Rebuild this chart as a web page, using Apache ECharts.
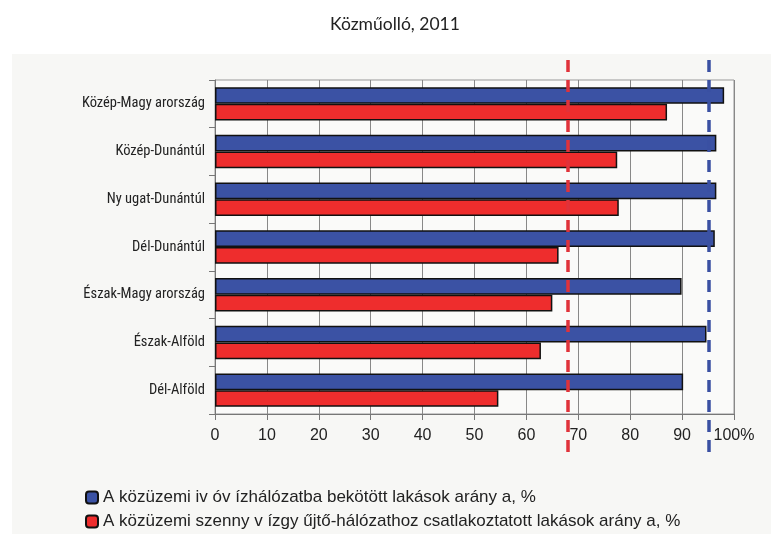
<!DOCTYPE html>
<html>
<head>
<meta charset="utf-8">
<script src="https://cdn.jsdelivr.net/npm/echarts@6/dist/echarts.min.js"></script>
<style>
html, body { margin: 0; padding: 0; background: #fff; }
#chart { width: 771px; height: 534px; }
</style>
</head>
<body>
<div id="chart"></div>
<script>
var regions = ['Közép-Magy arország', 'Közép-Dunántúl', 'Ny ugat-Dunántúl', 'Dél-Dunántúl', 'Észak-Magy arország', 'Észak-Alföld', 'Dél-Alföld'];
var ivoviz = [98.1, 96.6, 96.6, 96.3, 89.9, 94.7, 90.2];
var szennyviz = [87.1, 77.5, 77.8, 66.2, 65.0, 62.8, 54.6];
var avgLines = [68.0, 95.2]; // országos átlag, szaggatott vonal
var seriesNames = ['A közüzemi iv óv ízhálózatba bekötött lakások arány a, %', 'A közüzemi szenny v ízgy űjtő-hálózathoz csatlakoztatott lakások arány a, %'];

var narrow = "'Liberation Sans Narrow', 'Roboto Condensed', 'DejaVu Sans Condensed', 'Liberation Sans', sans-serif";
var arial = "'Liberation Sans', Arial, sans-serif";
var myChart = echarts.init(document.getElementById('chart'));
var option = {
	backgroundColor: '#ffffff',
	title: {
		text: 'Közműolló, 2011',
		left: 325,
		top: 10,
		textStyle: { fontFamily: 'Lato', fontWeight: 'normal', fontSize: 17.5, color: '#222' }
	},
	graphic: [{
		type: 'rect',
		z: -10,
		shape: { x: 12, y: 54, width: 759, height: 480 },
		style: { fill: '#f7f7f5' }
	}],
	legend: {
		orient: 'vertical',
		left: 80,
		top: 484,
		height: 60,
		itemWidth: 12,
		itemHeight: 12,
		itemGap: 7,
		textStyle: { fontFamily: arial, fontSize: 17, color: '#222' },
		data: seriesNames
	},
	grid: [{
		left: 215, right: 37, top: 80, bottom: 120,
		show: true, backgroundColor: '#fafaf9', borderColor: '#999', borderWidth: 1
	}, {
		left: 215, right: 37, top: 56, bottom: 82
	}],
	xAxis: [{
		type: 'value', min: 0, max: 100, interval: 10, gridIndex: 0,
		axisLine: { show: true, lineStyle: { color: '#777' } },
		axisTick: { show: true, length: 6, lineStyle: { color: '#777' } },
		splitLine: { show: true, lineStyle: { color: '#888' } },
		axisLabel: {
			fontFamily: arial, fontSize: 16, color: '#222', margin: 14,
			formatter: function (v) { return v === 100 ? '100%' : v; }
		}
	}, {
		type: 'value', min: 0, max: 100, gridIndex: 1, show: false
	}],
	yAxis: [{
		type: 'category', data: regions, inverse: true, gridIndex: 0,
		axisLine: { show: true, lineStyle: { color: '#777' } },
		axisTick: { show: true, length: 6, lineStyle: { color: '#777' } },
		axisLabel: { fontFamily: narrow, fontSize: 14.5, color: '#222', margin: 10 }
	}, {
		type: 'value', min: 0, max: 1, gridIndex: 1, show: false
	}],
	series: [{
		name: seriesNames[0],
		type: 'bar',
		data: ivoviz,
		barGap: '0%',
		barCategoryGap: '30%',
		itemStyle: { color: '#3b52a4', borderColor: '#111', borderWidth: 1.5 }
	}, {
		name: seriesNames[1],
		type: 'bar',
		data: szennyviz,
		itemStyle: { color: '#ee2d2d', borderColor: '#111', borderWidth: 1.5 }
	}, {
		type: 'line',
		xAxisIndex: 1,
		yAxisIndex: 1,
		data: [],
		silent: true,
		markLine: {
			symbol: 'none',
			silent: true,
			label: { show: false },
			lineStyle: { width: 3.5 },
			data: [
				{ xAxis: avgLines[0], lineStyle: { color: '#e0323a', type: [12, 8], width: 3.5 } },
				{ xAxis: avgLines[1], lineStyle: { color: '#3a50a2', type: [12, 8], width: 3.5 } }
			]
		}
	}]
};
myChart.setOption(option);
window.addEventListener('resize', function () {
	myChart.resize();
});
</script>
</body>
</html>
